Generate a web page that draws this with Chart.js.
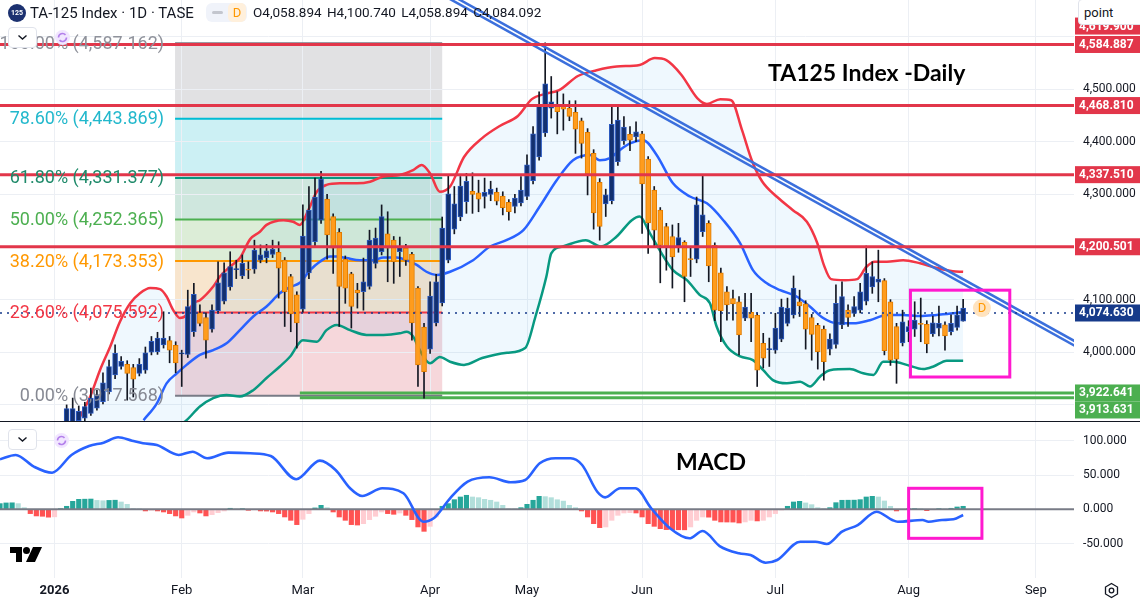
<!DOCTYPE html>
<html lang="en">
<head>
<meta charset="utf-8">
<title>TA125 Index - Daily</title>
<script src="https://cdn.jsdelivr.net/npm/chart.js"></script>
<style>
  html, body { margin: 0; padding: 0; background: #fff; }
  #wrap { position: relative; width: 1140px; height: 601px; overflow: hidden; background: #fff;
          font-family: Roboto, 'Noto Sans', sans-serif; color: #131722; }
  #wrap canvas { position: absolute; left: 0; }
  .abs { position: absolute; white-space: nowrap; }
  .sym { left: 8px; top: 4px; width: 18px; height: 18px; border-radius: 50%; background: #1c3170; color: #fff;
         font-size: 7px; font-weight: bold; line-height: 18px; text-align: center; }
  .title { left: 30px; top: 3px; font-size: 15px; line-height: 20px; }
  .pill { left: 206px; top: 3px; width: 41px; height: 19px; border-radius: 6px; background: #f0f3fa; }
  .dash { left: 212px; top: 11px; width: 11px; height: 3px; border-radius: 2px; background: #c3c6ce; }
  .dbadge { left: 228px; top: 3px; width: 18px; height: 19px; border-radius: 5px; background: #fff0dc; color: #ff9800;
            font-size: 13px; line-height: 19px; text-align: center; }
  .ohlc { left: 253px; top: 3px; font-size: 13.5px; line-height: 19px; word-spacing: 2px; }
  .btn { left: 8px; width: 27px; height: 19px; border: 1px solid #e0e3eb; border-radius: 4px; background: #fff; }
  .big { font-family: Lato, 'Open Sans', sans-serif; font-weight: 700; font-size: 23px; line-height: 28px; color: #000; }
  .point { left: 1078px; top: -1px; width: 70px; height: 26px; border: 1px solid #e0e3eb; border-radius: 4px;
           background: #fff; font-size: 13px; line-height: 26px; padding-left: 5px; box-sizing: border-box; }
  #sep { position: absolute; left: 0; top: 421px; width: 1140px; height: 1px; background: #131722; }
</style>
</head>
<body>
<div id="wrap">
  <canvas id="priceChart" width="1140" height="421" style="top:0"></canvas>
  <div id="sep"></div>
  <canvas id="macdChart" width="1140" height="179" style="top:422px"></canvas>

  <div class="abs sym">125</div>
  <div class="abs title">TA-125 Index · 1D · TASE</div>
  <div class="abs pill"></div>
  <div class="abs dash"></div>
  <div class="abs dbadge">D</div>
  <div class="abs ohlc">O4,058.894 H4,100.740 L4,058.894 C4,084.092</div>

  <div class="abs btn" style="top:27px"><svg width="27" height="19"><path d="M9.5 7.5l4 3.5 4-3.5" fill="none" stroke="#131722" stroke-width="1.4"/></svg></div>
  <svg class="abs" style="left:54px;top:29px" width="17" height="17"><circle cx="8.5" cy="8.5" r="7.5" fill="#f1e6ff"/><path d="M4.5 8.5a4 4 0 0 1 7-2.6M12.5 8.5a4 4 0 0 1-7 2.6" fill="none" stroke="#b37feb" stroke-width="1.6"/></svg>

  <div class="abs btn" style="top:429px"><svg width="27" height="19"><path d="M9.5 7.5l4 3.5 4-3.5" fill="none" stroke="#131722" stroke-width="1.4"/></svg></div>
  <svg class="abs" style="left:53px;top:432px" width="17" height="17"><circle cx="8.5" cy="8.5" r="7.5" fill="#f1e6ff"/><path d="M4.5 8.5a4 4 0 0 1 7-2.6M12.5 8.5a4 4 0 0 1-7 2.6" fill="none" stroke="#b37feb" stroke-width="1.6"/></svg>

  <div class="abs big" style="left:768px;top:58px">TA125 Index -Daily</div>
  <div class="abs big" style="left:676px;top:447px">MACD</div>

  <div class="abs point">point</div>

  <svg class="abs" style="left:10px;top:547px" width="32" height="15" viewBox="0 0 32 15"><path d="M0 0h12v15H6V6H0z" fill="#000"/><circle cx="16.5" cy="3.5" r="3.5" fill="#000"/><path d="M23 0h9l-7 15h-9z" fill="#000"/></svg>
  <svg class="abs" style="left:1103px;top:582px" width="17" height="17"><path d="M8.5 1.5l6 3.5v7l-6 3.5-6-3.5v-7z" fill="none" stroke="#131722" stroke-width="1.3"/><circle cx="8.5" cy="8.5" r="2.3" fill="none" stroke="#131722" stroke-width="1.3"/></svg>
</div>

<script>
// x axis is in bar units (one daily session per step)
const monthTicks = [9, 30, 50, 71, 87, 106, 128, 150, 171];
const monthLabels = ['2026', 'Feb', 'Mar', 'Apr', 'May', 'Jun', 'Jul', 'Aug', 'Sep'];
const xMin = 0, xMax = 177.3;

// daily candles, first one is bar 11
const firstBar = 11;
const opens = [
  3868, 3866, 3870, 3875, 3884, 3894, 3906, 3925, 3957, 3973,
  3977, 3971, 3960, 3966, 4000, 4001, 4014, 4022, 4013, 3997,
  3996, 4039, 4075, 4066, 4044, 4079, 4097, 4124, 4157, 4145,
  4158, 4158, 4175, 4180, 4186, 4190, 4175, 4144, 4109, 4082,
  4151, 4210, 4251, 4291, 4258, 4228, 4177, 4149, 4118, 4115,
  4125, 4169, 4191, 4225, 4213, 4191, 4198, 4186, 4122, 4048,
  4006, 4056, 4094, 4175, 4234, 4257, 4286, 4306, 4303, 4296,
  4300, 4304, 4297, 4285, 4277, 4284, 4296, 4326, 4371, 4417,
  4464, 4469, 4467, 4464, 4456, 4440, 4418, 4378, 4323, 4282,
  4288, 4362, 4402, 4414, 4409, 4415, 4367, 4308, 4270, 4239,
  4220, 4199, 4209, 4178, 4177, 4229, 4245, 4203, 4151, 4115,
  4102, 4096, 4065, 4076, 4070, 4017, 4005, 4004, 4025, 4055,
  4071, 4096, 4092, 4066, 4051, 4044, 4006, 4015, 4052, 4080,
  4074, 4080, 4097, 4124, 4133, 4136, 4096, 4049, 4018, 4039,
  4044, 4055, 4053, 4035, 4046, 4052, 4039, 4047, 4058.894
];
const highs = [
  3900, 3913, 3898, 3905, 3932, 3928, 3961, 3985, 4014, 3992,
  3984, 3977, 3988, 4010, 4030, 4038, 4077, 4030, 4020, 4004,
  4118, 4131, 4090, 4075, 4090, 4172, 4170, 4191, 4175, 4185,
  4172, 4213, 4204, 4205, 4213, 4210, 4180, 4148, 4115, 4280,
  4315, 4331, 4344, 4300, 4263, 4235, 4183, 4152, 4131, 4179,
  4232, 4236, 4280, 4267, 4220, 4219, 4205, 4190, 4125, 4055,
  4134, 4148, 4257, 4337, 4315, 4334, 4340, 4341, 4327, 4331,
  4325, 4312, 4305, 4290, 4300, 4334, 4375, 4429, 4495, 4588,
  4524, 4495, 4491, 4478, 4478, 4445, 4425, 4385, 4330, 4310,
  4466, 4468, 4448, 4429, 4438, 4420, 4372, 4315, 4275, 4245,
  4242, 4245, 4212, 4201, 4295, 4335, 4250, 4208, 4160, 4125,
  4118, 4106, 4112, 4112, 4075, 4036, 4027, 4074, 4101, 4103,
  4145, 4118, 4098, 4072, 4055, 4050, 4035, 4128, 4134, 4090,
  4106, 4131, 4202, 4172, 4194, 4140, 4100, 4055, 4080, 4060,
  4096, 4103, 4060, 4069, 4088, 4058, 4071, 4088, 4100.74
];
const lows = [
  3860, 3860, 3864, 3870, 3880, 3890, 3902, 3921, 3950, 3968,
  3909, 3915, 3955, 3960, 3995, 3996, 4008, 3980, 3961, 3935,
  3990, 4030, 4050, 3989, 4038, 4075, 4092, 4118, 4140, 4140,
  4140, 4150, 4170, 4170, 4180, 4103, 4049, 4039, 4008, 4076,
  4140, 4200, 4245, 4177, 4150, 4049, 4093, 4046, 4084, 4080,
  4120, 4160, 4185, 4134, 4131, 4144, 4165, 4023, 3935, 3913,
  3998, 4050, 4088, 4170, 4225, 4250, 4264, 4264, 4267, 4274,
  4288, 4280, 4261, 4251, 4265, 4278, 4290, 4320, 4365, 4410,
  4445, 4415, 4422, 4440, 4378, 4369, 4299, 4234, 4213, 4258,
  4282, 4355, 4395, 4383, 4400, 4226, 4188, 4201, 4132, 4156,
  4122, 4190, 4096, 4144, 4170, 4220, 4134, 4060, 4020, 4061,
  4061, 3995, 4060, 4020, 3935, 3970, 3973, 3998, 4020, 4050,
  4065, 4068, 4006, 3985, 3968, 3947, 3995, 4008, 4045, 4049,
  4068, 4075, 4090, 4112, 4096, 3995, 3975, 3941, 4012, 4020,
  4030, 4020, 3999, 4030, 4031, 4004, 4033, 4042, 4058.894
];
const closes = [
  3893, 3893, 3888, 3897, 3913, 3919, 3942, 3973, 3998, 3983,
  3960, 3949, 3977, 3999, 4021, 4027, 4027, 4004, 3980, 3999,
  4087, 4110, 4055, 4023, 4080, 4132, 4151, 4163, 4159, 4169,
  4156, 4194, 4185, 4193, 4196, 4160, 4115, 4073, 4056, 4221,
  4270, 4295, 4329, 4223, 4198, 4125, 4122, 4087, 4113, 4134,
  4213, 4217, 4258, 4198, 4172, 4200, 4175, 4056, 3976, 3963,
  4107, 4134, 4236, 4301, 4282, 4316, 4325, 4300, 4291, 4304,
  4310, 4287, 4275, 4267, 4293, 4308, 4356, 4415, 4468, 4510,
  4476, 4457, 4462, 4448, 4424, 4397, 4339, 4265, 4239, 4299,
  4433, 4441, 4428, 4403, 4419, 4320, 4246, 4232, 4203, 4201,
  4181, 4218, 4144, 4176, 4280, 4261, 4164, 4080, 4079, 4090,
  4092, 4033, 4086, 4065, 3966, 3989, 4007, 4046, 4086, 4084,
  4122, 4088, 4044, 4034, 4001, 3982, 4025, 4093, 4106, 4066,
  4087, 4115, 4150, 4144, 4139, 4003, 3985, 3987, 4058, 4049,
  4061, 4053, 4016, 4056, 4055, 4031, 4055, 4071, 4084.092
];

// Bollinger bands: [bar, price]
const bbUpper = [
  [12.9, 3871], [14.9, 3916], [16.5, 3966], [18.2, 4011], [19.8, 4058], [21.5, 4093], [23.1, 4112],
  [24.8, 4122], [26.4, 4120], [27.5, 4106], [28.6, 4080], [29.7, 4065], [30.8, 4071], [31.9, 4093],
  [33, 4099], [35.2, 4125], [36.3, 4144], [38, 4163], [39.6, 4179], [41.3, 4215], [42.9, 4229],
  [44, 4242], [46.8, 4251], [48.4, 4248], [49.5, 4242], [50.9, 4270], [52.3, 4305], [53.9, 4318],
  [56.1, 4321], [58.9, 4321], [61.1, 4324], [63.3, 4334], [66, 4337], [68.2, 4346], [69.6, 4356],
  [71, 4340], [72.6, 4305], [74.3, 4315], [76.6, 4371], [79.6, 4407], [82.5, 4430], [85.5, 4449],
  [87.8, 4481], [90, 4491], [92.3, 4498], [95.4, 4525], [98.5, 4536], [101.8, 4543], [105.6, 4546],
  [108.1, 4559], [110, 4555], [112.5, 4527], [115.1, 4483], [116.7, 4472], [118.9, 4481], [120.7, 4479],
  [122.5, 4422], [124.1, 4365], [125.8, 4325], [128.3, 4295], [130.9, 4270], [133.2, 4248], [134.9, 4208],
  [136, 4166], [137.2, 4139], [139.5, 4137], [141.5, 4139], [143, 4162], [144.4, 4172], [146.4, 4172],
  [149.1, 4175], [151.9, 4169], [154.7, 4160], [157.3, 4154], [159, 4153]
];
const bbBasis = [
  [23.7, 3871], [25.9, 3903], [27.5, 3941], [29.2, 3960], [30.8, 3976], [33, 3995], [35.2, 4004],
  [37.4, 4017], [39.6, 4042], [41.8, 4068], [44, 4087], [46.2, 4112], [47.9, 4124], [49.5, 4132],
  [51.2, 4156], [52.8, 4172], [54.5, 4182], [55.6, 4182], [57.2, 4179], [59.4, 4175], [61.6, 4175],
  [63.3, 4180], [65.5, 4180], [67.1, 4175], [68.8, 4166], [70.4, 4153], [72.1, 4147], [74.3, 4153],
  [78.1, 4175], [80.9, 4201], [83.6, 4213], [86.4, 4232], [89.1, 4277], [91.9, 4327], [94.6, 4365],
  [97.4, 4375], [99, 4365], [100.7, 4369], [102.3, 4384], [104, 4397], [106.2, 4403], [108.4, 4375],
  [111.1, 4321], [113.9, 4296], [116.7, 4283], [119.4, 4251], [122.2, 4207], [124.3, 4156], [126.6, 4131],
  [128.8, 4118], [131.5, 4106], [133.7, 4087], [135.9, 4065], [138.1, 4055], [140.9, 4055], [143.6, 4061],
  [146.4, 4071], [149.1, 4071], [151.9, 4069], [154.6, 4071], [157.4, 4074], [159, 4077]
];
const bbLower = [
  [12.9, 3700], [22, 3800], [30.8, 3871], [33, 3897], [35.2, 3913], [37.4, 3919], [39.6, 3916],
  [41.8, 3928], [44, 3951], [46.2, 3973], [47.9, 3992], [50, 4023], [52.3, 4020], [53.9, 4042],
  [55.6, 4052], [57.8, 4042], [60.5, 4033], [63.3, 4033], [66, 4036], [67.1, 4039], [68.2, 4030],
  [69.3, 4004], [71, 3979], [72.6, 3991], [74.3, 3982], [76.6, 3976], [79.6, 3989], [83.7, 3999],
  [86.7, 4008], [88.4, 4068], [90.2, 4144], [91, 4188], [92.9, 4201], [96.7, 4213], [99.2, 4201],
  [101.8, 4220], [104.3, 4251], [105.6, 4258], [107.3, 4226], [108.9, 4194], [111.1, 4156], [113.4, 4137],
  [115.5, 4109], [117.2, 4093], [118.3, 4049], [120, 4011], [122.2, 3992], [124.3, 3985], [126, 3966],
  [127.6, 3947], [129.9, 3941], [132.1, 3944], [133.7, 3935], [135.4, 3954], [137, 3966], [140.3, 3968],
  [142.5, 3960], [144.2, 3957], [145.8, 3982], [147.5, 3982], [149.7, 3976], [152.4, 3968], [154.1, 3973],
  [156.3, 3984], [159, 3984]
];

// fibonacci retracement
const fibPct = ['100.00%', '78.60%', '61.80%', '50.00%', '38.20%', '23.60%', '0.00%'];
const fibPrice = [4587.162, 4443.869, 4331.377, 4252.365, 4173.353, 4075.592, 3917.568];
const fibStart = 28.9, fibEnd = 73;

// drawn levels
const resistLevels = [4584.887, 4468.810, 4337.510, 4200.501];
const supportLevels = [3922.641, 3913.631];
const supportStart = 49.5;
const lastPrice = 4074.630;
const hiddenTag = 4619.9;

// falling trend channel (double line)
const trendIdx = [72, 178.3];
const trendUpper = [4694.8, 4015.6];
const trendLower = [4685.8, 4006.6];

// MACD line [bar, value] and histogram (one per bar from bar 0)
const macdLine = [
  [0, 73.1], [2.6, 79.4], [5.6, 62.3], [8.6, 53.5], [11.8, 79.4], [14.7, 92.5], [17.1, 97.4],
  [19.5, 105.3], [21.8, 100.3], [23.6, 96.5], [25.9, 94], [29.5, 79.4], [31.8, 84.2], [34.2, 74.6],
  [37.7, 82.8], [41.3, 81.9], [44.7, 77.9], [48.9, 43.9], [52.8, 71.1], [55.4, 57.5], [57.8, 30.7],
  [59.8, 19.4], [63.1, 30.7], [66.6, 23.4], [69.9, -18.1], [71.6, -13.2], [74.3, 16.1], [77.2, 40.4],
  [80.8, 46.8], [84.3, 39.5], [86.7, 42.8], [89.1, 67.3], [91.7, 74.6], [94.2, 74.6], [96.1, 64.8],
  [98.6, 25.7], [99.9, 17.5], [102.4, 30.7], [104.9, 30.7], [107.5, 1.5], [110.6, -27.8], [113.8, -42.4],
  [116, -31.7], [118.8, -53.7], [122, -64.3], [123.9, -66.8], [126.4, -78.1], [128.3, -74.1], [132.1, -47.4],
  [134.6, -47.4], [136.5, -50.7], [139, -32.7], [141.6, -23], [144.7, -3.5], [147.3, -15.6], [148.2, -18.1],
  [152.3, -15.6], [153.3, -18.1], [155.5, -15.6], [157.4, -14.6], [159, -8.3]
];
const macdHist = [
  8.3, 9.3, 9.5, 8.3, 2.4, -6.3, -9.7, -10.2, -11.5, -11.0,
  1.0, 4.4, 11.7, 14.6, 14.8, 15.0, 13.0, 12.5, 13.0, 13.3,
  10.7, 7.3, 1.0, 0.3, -2.4, -1.5, -2.4, -3.9, -6.3, -9.7,
  -12.7, -8.8, -3.9, -5.4, -9.7, -7.8, -4.9, -2.4, 1.5, 0.5,
  1.0, -1.5, -0.8, -2.4, -2.6, -3.9, -6.3, -11.2, -16.1, -22.4,
  -14.6, -6.3, 2.0, 5.8, 2.4, -3.9, -11.2, -16.1, -22.4, -23.0,
  -21.0, -15.1, -10.2, -3.9, -6.3, -7.3, -5.4, -8.8, -15.1, -25.8,
  -32.2, -24.9, -11.2, 4.4, 8.3, 14.1, 18.0, 20.5, 18.0, 17.0,
  14.6, 13.2, 10.7, 5.8, 0.5, 0.3, 2.4, 7.3, 13.2, 19.0,
  18.5, 17.0, 14.0, 12.0, 5.8, 2.4, -2.4, -11.2, -21.0, -26.8,
  -25.8, -16.1, -8.8, -5.4, -4.9, -5.4, -11.2, -21.0, -24.9, -28.3,
  -29.7, -29.8, -29.9, -30.0, -25.8, -16.1, -11.2, -11.5, -16.1, -18.5,
  -18.6, -18.7, -20.0, -18.5, -16.1, -17.0, -16.1, -11.2, -6.3, -1.0,
  4.4, 10.7, 11.7, 9.3, 6.8, 2.4, 1.0, 2.4, 9.7, 13.2,
  13.3, 13.4, 14.1, 18.0, 19.0, 18.0, 12.2, 4.4, -2.4, -0.5,
  0.3, 1.0, 0.5, -2.0, -0.5, 1.0, 0.5, 1.5, 3.4, 4.4
];

// axes
const priceMin = 3869.4, priceMax = 4669.4;
const priceGrid = [3900, 4000, 4100, 4200, 4300, 4400, 4500, 4600];
const priceLabels = [4000, 4100, 4300, 4400, 4500];
const macdMin = -100.4, macdMax = 127.6;
const macdTicks = [-50, 0, 50, 100];

// annotations
const watchBox = { x0: 150.3, x1: 166.7, top: 4118, bottom: 3953 };
const macdBox = { x0: 150, x1: 162.1, top: 30.7, bottom: -42.4 };
const divMark = { x: 162.1, price: 4084 };

const C = {
  up: '#13306f', upEdge: '#2c5ac0', down: '#ff9c1c', downEdge: '#e07c00', wick: '#131722',
  red: '#e2364a', green: '#4caf50', navy: '#163a8a',
  bbUp: '#f23645', bbMid: '#2962ff', bbLow: '#089981', bbFill: 'rgba(33,150,243,0.07)',
  trend: '#3b6fdc', magenta: '#ff19cf', grid: '#eceff4'
};
const fibLine = ['#787b86', '#00bcd4', '#089981', '#4caf50', '#ff9800', '#f23645', '#787b86'];
const fibText = ['#8f929b', '#22b8cc', '#1f8a6a', '#4caf50', '#ff9800', '#f23645', '#868993'];
const fibFill = ['#e1e1e3', '#ccf0f4', '#cfe7de', '#dcedd7', '#f8e5cd', '#f6d7db'];

Chart.defaults.font.family = "Roboto, 'Noto Sans', sans-serif";
Chart.defaults.color = '#131722';

const fmt = v => v.toLocaleString('en-US', { minimumFractionDigits: 3, maximumFractionDigits: 3 });
const pairs = arr => arr.map(([x, y]) => ({ x, y }));
const span = (v, from, to) => [{ x: from, y: v }, { x: to, y: v }];
const line = (pts, color, width, order, extra) => Object.assign({
  type: 'line', data: pts, borderColor: color, borderWidth: width,
  pointRadius: 0, tension: 0, fill: false, order
}, extra || {});

const bars = opens.map((_, k) => firstBar + k);
const wicks = bars.map((i, k) => ({ x: i, y: [lows[k], highs[k]] }));
const bodies = bars.map((i, k) => ({ x: i, y: [opens[k], closes[k]] }));
const isUp = ctx => !ctx.raw || ctx.raw.y[1] >= ctx.raw.y[0];

const priceSets = [
  line(span(lastPrice, xMin, xMax), C.navy, 1.6, 0, { borderDash: [2, 5] }),
  line(pairs(bbUpper), C.bbUp, 2.5, 6, { cubicInterpolationMode: 'monotone' }),
  line(pairs(bbBasis), C.bbMid, 2.5, 5, { cubicInterpolationMode: 'monotone' }),
  line(pairs(bbLower), C.bbLow, 2.5, 7, { cubicInterpolationMode: 'monotone', fill: 1, backgroundColor: C.bbFill }),
  { type: 'bar', data: wicks, backgroundColor: C.wick, barThickness: 1, grouped: false, order: 4 },
  { type: 'bar', data: bodies, barThickness: 5, grouped: false, order: 3, borderWidth: 1, borderSkipped: false,
    backgroundColor: ctx => isUp(ctx) ? C.up : C.down,
    borderColor: ctx => isUp(ctx) ? C.upEdge : C.downEdge },
  line(trendIdx.map((x, k) => ({ x, y: trendUpper[k] })), C.trend, 2.5, 2),
  line(trendIdx.map((x, k) => ({ x, y: trendLower[k] })), C.trend, 2.5, 2),
  ...resistLevels.map(v => line(span(v, xMin, xMax), C.red, 3, 1)),
  ...supportLevels.map(v => line(span(v, supportStart, xMax), C.green, 3, 8)),
  ...fibPrice.map((p, k) => line(span(p, fibStart, fibEnd), fibLine[k], 2, 9))
];

const pricePlugin = {
  id: 'priceMarks',
  beforeDraw(chart) {
    const { ctx, scales: { x, y } } = chart;
    const x0 = x.getPixelForValue(fibStart), x1 = x.getPixelForValue(fibEnd);
    ctx.save();
    for (let k = 0; k < fibPrice.length - 1; k++) {
      const ya = y.getPixelForValue(fibPrice[k]), yb = y.getPixelForValue(fibPrice[k + 1]);
      ctx.fillStyle = fibFill[k];
      ctx.fillRect(x0, ya, x1 - x0, yb - ya);
    }
    ctx.restore();
  },
  afterDatasetsDraw(chart) {
    const { ctx, scales: { x, y } } = chart;
    ctx.save();
    // fib labels, right aligned just left of the box
    ctx.font = "18px Roboto, 'Noto Sans', sans-serif";
    ctx.textAlign = 'right';
    ctx.textBaseline = 'middle';
    const xr = x.getPixelForValue(fibStart) - 11;
    fibPrice.forEach((p, k) => {
      ctx.fillStyle = fibText[k];
      ctx.fillText(fibPct[k] + ' (' + fmt(p) + ')', xr, y.getPixelForValue(p) + 1);
    });
    // highlight box
    ctx.strokeStyle = C.magenta;
    ctx.lineWidth = 3;
    const bx = x.getPixelForValue(watchBox.x0), by = y.getPixelForValue(watchBox.top);
    ctx.strokeRect(bx, by, x.getPixelForValue(watchBox.x1) - bx, y.getPixelForValue(watchBox.bottom) - by);
    // dividend marker
    const dx = x.getPixelForValue(divMark.x), dy = y.getPixelForValue(divMark.price);
    ctx.fillStyle = '#ffe3bf';
    ctx.beginPath();
    ctx.arc(dx, dy, 9, 0, Math.PI * 2);
    ctx.fill();
    ctx.fillStyle = '#ff9800';
    ctx.textAlign = 'center';
    ctx.font = "13px Roboto, 'Noto Sans', sans-serif";
    ctx.fillText('D', dx, dy + 1);
    ctx.restore();
  },
  afterDraw(chart) {
    // coloured price tags on the right axis
    const { ctx, chartArea, scales: { y } } = chart;
    const h = 17, x0 = chartArea.right, w = chart.width - chartArea.right;
    const tags = [
      { value: hiddenTag, color: C.red },
      ...resistLevels.map(v => ({ value: v, color: C.red })),
      { value: lastPrice, color: C.navy },
      ...supportLevels.map(v => ({ value: v, color: C.green }))
    ].map(t => Object.assign(t, { py: y.getPixelForValue(t.value) })).sort((a, b) => a.py - b.py);
    let prevBottom = -Infinity;
    ctx.save();
    ctx.font = "bold 12px Roboto, 'Noto Sans', sans-serif";
    ctx.textBaseline = 'middle';
    ctx.textAlign = 'left';
    tags.forEach(t => {
      const cy = Math.max(t.py, prevBottom + h / 2);
      prevBottom = cy + h / 2;
      ctx.fillStyle = t.color;
      ctx.fillRect(x0 + 1, cy - h / 2, w, h);
      ctx.fillStyle = '#fff';
      ctx.fillText(fmt(t.value), x0 + 5, cy + 0.5);
    });
    ctx.restore();
  }
};

new Chart(document.getElementById('priceChart'), {
  type: 'line',
  data: { datasets: priceSets },
  options: {
    responsive: false,
    animation: false,
    events: [],
    layout: { padding: 0 },
    plugins: { legend: { display: false }, tooltip: { enabled: false }, filler: { drawTime: 'beforeDatasetsDraw' } },
    scales: {
      x: {
        type: 'linear', min: xMin, max: xMax, offset: false,
        grid: { color: C.grid, drawTicks: false, offset: false },
        border: { display: false },
        ticks: { display: false },
        afterBuildTicks: s => { s.ticks = monthTicks.map(v => ({ value: v })); },
        afterFit: s => { s.height = 0; s.paddingLeft = 0; s.paddingRight = 0; }
      },
      y: {
        position: 'right', min: priceMin, max: priceMax,
        grid: { color: C.grid, drawTicks: false },
        border: { display: false },
        ticks: { padding: 9, font: { size: 12 }, callback: v => priceLabels.includes(v) ? fmt(v) : '' },
        afterBuildTicks: s => { s.ticks = priceGrid.map(v => ({ value: v })); },
        afterFit: s => { s.width = 66; s.paddingTop = 0; s.paddingBottom = 0; }
      }
    }
  },
  plugins: [pricePlugin]
});

const macdPlugin = {
  id: 'macdMarks',
  afterDatasetsDraw(chart) {
    const { ctx, scales: { x, y } } = chart;
    ctx.save();
    ctx.strokeStyle = C.magenta;
    ctx.lineWidth = 3;
    const bx = x.getPixelForValue(macdBox.x0), by = y.getPixelForValue(macdBox.top);
    ctx.strokeRect(bx, by, x.getPixelForValue(macdBox.x1) - bx, y.getPixelForValue(macdBox.bottom) - by);
    ctx.restore();
  }
};

const histColor = ctx => {
  const i = ctx.dataIndex;
  const v = macdHist[i], p = i > 0 ? macdHist[i - 1] : v;
  if (v >= 0) return v >= p ? '#26a69a' : '#b2dfdb';
  return v < p ? '#ff5252' : '#ffcdd2';
};

new Chart(document.getElementById('macdChart'), {
  type: 'line',
  data: {
    datasets: [
      line(pairs(macdLine), '#2962ff', 2.6, 0, { cubicInterpolationMode: 'monotone' }),
      line(span(0, xMin, xMax), '#787b86', 2, 1),
      { type: 'bar', data: macdHist.map((v, i) => ({ x: i, y: v })), barThickness: 4.5, grouped: false,
        order: 2, backgroundColor: histColor }
    ]
  },
  options: {
    responsive: false,
    animation: false,
    events: [],
    layout: { padding: 0 },
    plugins: { legend: { display: false }, tooltip: { enabled: false } },
    scales: {
      x: {
        type: 'linear', min: xMin, max: xMax, offset: false,
        grid: { color: C.grid, drawTicks: false, offset: false },
        border: { display: false },
        ticks: {
          autoSkip: false, maxRotation: 0, padding: 5,
          font: ctx => ({ size: 13, weight: ctx.tick && ctx.tick.value === monthTicks[0] ? 'bold' : 'normal' }),
          callback: v => { const k = monthTicks.indexOf(v); return k < 0 ? '' : monthLabels[k]; }
        },
        afterBuildTicks: s => { s.ticks = monthTicks.map(v => ({ value: v })); },
        afterFit: s => { s.height = 23; s.paddingLeft = 0; s.paddingRight = 0; }
      },
      y: {
        position: 'right', min: macdMin, max: macdMax,
        grid: { color: C.grid, drawTicks: false },
        border: { display: false },
        ticks: { padding: 9, font: { size: 12 }, callback: v => fmt(v) },
        afterBuildTicks: s => { s.ticks = macdTicks.map(v => ({ value: v })); },
        afterFit: s => { s.width = 66; s.paddingTop = 0; s.paddingBottom = 0; }
      }
    }
  },
  plugins: [macdPlugin]
});
</script>
</body>
</html>
